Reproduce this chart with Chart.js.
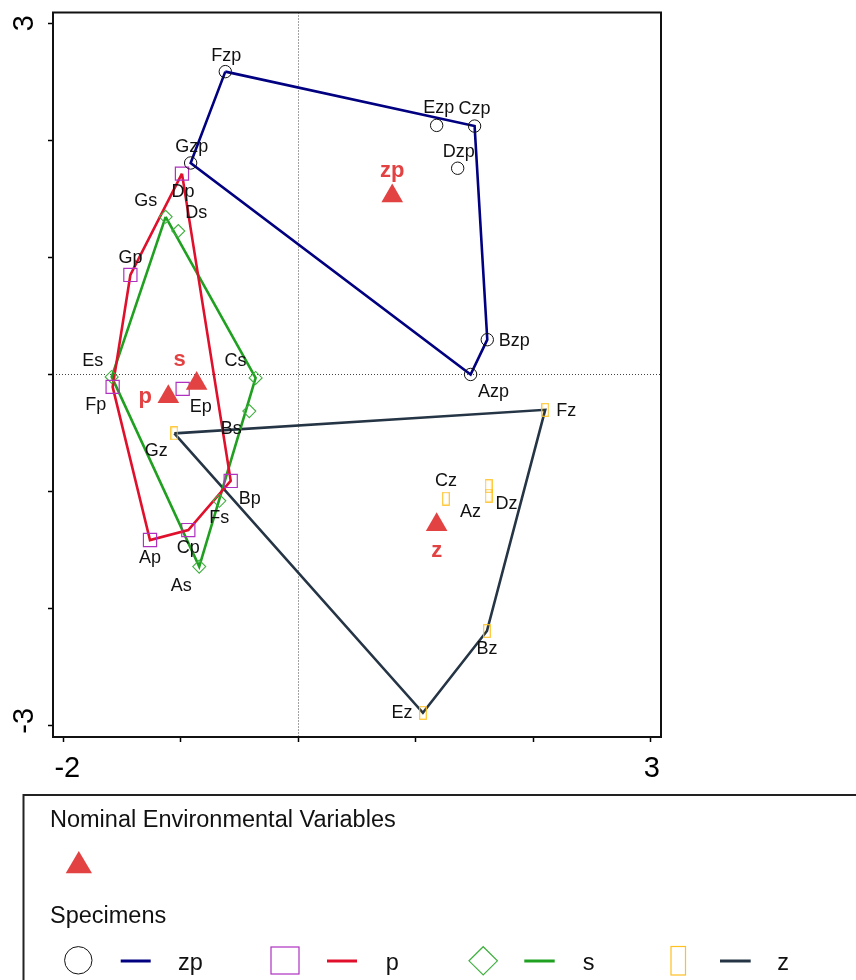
<!DOCTYPE html>
<html><head><meta charset="utf-8">
<script src="https://cdn.jsdelivr.net/npm/chart.js@4.4.0/dist/chart.umd.min.js"></script>
<style>
html,body{margin:0;padding:0;background:#fff;}
body{width:856px;height:980px;position:relative;overflow:hidden;font-family:"Liberation Sans",Arial,sans-serif;}
#wrap{position:absolute;left:0;top:0;width:856px;height:790px;}
#legsvg{position:absolute;left:0;top:780px;}
.t{position:absolute;white-space:nowrap;font-size:23.5px;line-height:23.5px;color:#111;}
</style></head>
<body>
<div id="wrap"><canvas id="c"></canvas></div>
<svg id="legsvg" width="856" height="200" xmlns="http://www.w3.org/2000/svg">
  <path d="M23.5 200 V15 H860" stroke="#222" stroke-width="2" fill="none"/>
  <polygon points="78.8,71 92,93.3 65.7,93.3" fill="#e34242"/>
  <circle cx="78.3" cy="180.3" r="13.7" stroke="#111" stroke-width="1" fill="none"/>
  <line x1="120.7" y1="181" x2="150.7" y2="181" stroke="#000080" stroke-width="3"/>
  <rect x="271" y="167" width="28" height="27" stroke="#b030c0" stroke-width="1.2" fill="none"/>
  <line x1="327" y1="181" x2="357" y2="181" stroke="#e0102c" stroke-width="3"/>
  <polygon points="469,180.8 483.2,166.7 497.4,180.8 483.2,195" stroke="#40b040" stroke-width="1.2" fill="none"/>
  <line x1="524.3" y1="181" x2="554.7" y2="181" stroke="#20a020" stroke-width="3"/>
  <rect x="671" y="166.5" width="14.5" height="28.5" stroke="#ffc020" stroke-width="1.2" fill="none"/>
  <line x1="720" y1="181" x2="750.7" y2="181" stroke="#253545" stroke-width="3"/>
</svg>
<div class="t" style="left:50px;top:808.4px">Nominal Environmental Variables</div>
<div class="t" style="left:50px;top:904.1px">Specimens</div>
<div class="t" style="left:178px;top:950.8px">zp</div>
<div class="t" style="left:385.7px;top:950.8px">p</div>
<div class="t" style="left:582.7px;top:950.8px">s</div>
<div class="t" style="left:777.3px;top:950.8px">z</div>
<script>
// ---------- DATA ----------
const zpNames = ['Azp','Bzp','Czp','Dzp','Ezp','Fzp','Gzp'];
const zpX = [1.467, 1.609, 1.501, 1.357, 1.178, -0.621, -0.916];
const zpY = [0.000, 0.297, 2.121, 1.761, 2.127, 2.586, 1.806];
const zpHull = ['Fzp','Czp','Bzp','Azp','Gzp','Fzp'];

const pNames = ['Ap','Bp','Cp','Dp','Ep','Fp','Gp'];
const pX = [-1.262, -0.575, -0.936, -0.990, -0.984, -1.580, -1.429];
const pY = [-1.414, -0.909, -1.329, 1.715, -0.123, -0.106, 0.850];
const pHull = ['Dp','Bp','Cp','Ap','Fp','Gp','Dp'];

const sNames = ['As','Bs','Cs','Ds','Es','Fs','Gs'];
const sX = [-0.843, -0.417, -0.363, -1.021, -1.588, -0.672, -1.129];
const sY = [-1.641, -0.313, -0.030, 1.225, -0.021, -1.079, 1.346];
const sHull = ['Gs','Cs','As','Es','Gs'];

const zNames = ['Az','Bz','Cz','Dz','Ez','Fz','Gz'];
const zX = [1.620, 1.606, 1.257, 1.620, 1.061, 2.102, -1.055];
const zY = [-1.034, -2.191, -1.060, -0.954, -2.889, -0.302, -0.503];
const zHull = ['Gz','Fz','Bz','Ez','Gz'];

const envNames = ['zp','p','s','z'];
const envX = [0.800, -1.106, -0.865, 1.178];
const envY = [1.523, -0.191, -0.077, -1.283];

const xTicks = [-2,-1,0,1,2,3];
const xTickLabels = ['-2','','','','','3'];
const yTicks = [-3,-2,-1,0,1,2,3];
const yTickLabels = ['-3','','','','','','3'];

// ---------- STYLE ----------
const FONT = '"Liberation Sans", Arial, sans-serif';
const labelOffset = {
  Fzp:[1,-16], Gzp:[1,-16], Ezp:[2,-17], Czp:[0,-17], Dzp:[1,-16], Bzp:[27,1], Azp:[23,18],
  Dp:[1,18], Gp:[0,-17], Fp:[-17,18], Ep:[18,18], Bp:[19,18], Cp:[0,18], Ap:[0,18],
  Gs:[-20,-16], Ds:[18,-18], Es:[-19,-16], Cs:[-20,-17], Bs:[-18,18], Fs:[0,17], As:[-18,19],
  Gz:[-18,18], Fz:[21,1], Cz:[0,-18], Az:[-18,16], Dz:[18,18], Bz:[0,18], Ez:[-21,0]
};
const envLabelOffset = { zp:[0,-25], p:[-23,0], s:[-17,-24], z:[0,26] };

function pts(names, X, Y){ return names.map((n,i)=>({x:X[i], y:Y[i], label:n})); }
function hull(order, names, X, Y){ return order.map(n=>{ const i=names.indexOf(n); return {x:X[i], y:Y[i]}; }); }

// tall yellow rectangle marker
const zMark = document.createElement('canvas');
zMark.width = 8; zMark.height = 14;
(function(){ const g=zMark.getContext('2d'); g.strokeStyle='#ffc020'; g.lineWidth=1.1; g.strokeRect(0.7,0.7,6.6,12.6); })();

const markerBase = { showLine:false, pointHoverRadius:0, backgroundColor:'rgba(0,0,0,0)' };
const lineBase = { showLine:true, pointRadius:0, pointHoverRadius:0, borderWidth:2.6, fill:false, tension:0 };

const datasets = [
  Object.assign({ data: pts(envNames, envX, envY), pointStyle:'triangle', pointRadius:12.5, backgroundColor:'#e34242', borderWidth:0, isEnv:true }, {showLine:false}),
  Object.assign({}, markerBase, { data: pts(zpNames, zpX, zpY), pointStyle:'circle', pointRadius:6.2, borderColor:'#111', pointBorderWidth:1, isSpec:true }),
  Object.assign({}, markerBase, { data: pts(pNames, pX, pY), pointStyle:'rect', pointRadius:9.3, borderColor:'#b030c0', pointBorderWidth:1.2, isSpec:true }),
  Object.assign({}, markerBase, { data: pts(sNames, sX, sY), pointStyle:'rectRot', pointRadius:6.5, borderColor:'#40b040', pointBorderWidth:1.1, isSpec:true }),
  Object.assign({}, markerBase, { data: pts(zNames, zX, zY), pointStyle:zMark, pointRadius:7, borderColor:'#ffc020', isSpec:true }),
  Object.assign({}, lineBase, { data: hull(zpHull, zpNames, zpX, zpY), borderColor:'#000080' }),
  Object.assign({}, lineBase, { data: hull(pHull, pNames, pX, pY), borderColor:'#e0102c' }),
  Object.assign({}, lineBase, { data: hull(sHull, sNames, sX, sY), borderColor:'#20a020' }),
  Object.assign({}, lineBase, { data: hull(zHull, zNames, zX, zY), borderColor:'#253545' })
];

const decor = {
  id:'decor',
  beforeDatasetsDraw(chart){
    const {ctx, chartArea:a, scales:{x, y}} = chart;
    ctx.save();
    ctx.strokeStyle = '#444'; ctx.lineWidth = 1; ctx.setLineDash([1,2]);
    const x0 = Math.round(x.getPixelForValue(0)) + 0.5;
    const y0 = Math.round(y.getPixelForValue(0)) + 0.5;
    ctx.beginPath(); ctx.moveTo(x0, a.top); ctx.lineTo(x0, a.bottom); ctx.stroke();
    ctx.beginPath(); ctx.moveTo(a.left, y0); ctx.lineTo(a.right, y0); ctx.stroke();
    ctx.restore();
  },
  afterDraw(chart){
    const {ctx, chartArea:a, scales:{x, y}} = chart;
    ctx.save();
    // frame
    ctx.strokeStyle = '#111'; ctx.lineWidth = 2; ctx.setLineDash([]);
    ctx.strokeRect(a.left, a.top, a.right - a.left, a.bottom - a.top);
    // axis labels
    ctx.fillStyle = '#000';
    ctx.font = '29px ' + FONT;
    ctx.textAlign = 'center'; ctx.textBaseline = 'alphabetic';
    xTicks.forEach((v,i)=>{
      if(!xTickLabels[i]) return;
      const px = x.getPixelForValue(v) + (v < 0 ? 4 : 1);
      ctx.fillText(xTickLabels[i], px, a.bottom + 40);
    });
    yTicks.forEach((v,i)=>{
      if(!yTickLabels[i]) return;
      const py = y.getPixelForValue(v) + (v < 0 ? -5 : 0);
      ctx.save();
      ctx.translate(a.left - 20, py);
      ctx.rotate(-Math.PI/2);
      ctx.fillText(yTickLabels[i], 0, 0);
      ctx.restore();
    });
    // point labels
    chart.data.datasets.forEach((ds, di)=>{
      if(!ds.isSpec && !ds.isEnv) return;
      const meta = chart.getDatasetMeta(di);
      meta.data.forEach((el, j)=>{
        const name = ds.data[j].label;
        let off;
        if(ds.isEnv){
          off = envLabelOffset[name];
          ctx.font = 'bold 22px ' + FONT; ctx.fillStyle = '#e34242';
        } else {
          off = labelOffset[name];
          ctx.font = '18px ' + FONT; ctx.fillStyle = '#111';
        }
        ctx.textAlign = 'center'; ctx.textBaseline = 'middle';
        ctx.fillText(name, el.x + off[0], el.y + off[1]);
      });
    });
    ctx.restore();
  }
};

new Chart(document.getElementById('c'), {
  type: 'scatter',
  data: { datasets },
  options: {
    responsive: true, maintainAspectRatio: false, animation: false, events: [],
    devicePixelRatio: 1,
    layout: { padding: { left: 0, top: 10, right: 195, bottom: 0 } },
    plugins: { legend: { display: false }, tooltip: { enabled: false } },
    scales: {
      x: {
        type: 'linear', min: -2.0877, max: 3.0877,
        afterBuildTicks: ax => { ax.ticks = xTicks.map(v => ({ value: v })); },
        afterFit: s => { s.height = 53; },
        ticks: { display: false },
        border: { display: false },
        grid: { display: true, drawOnChartArea: false, drawTicks: true, tickLength: 5, tickColor: '#000', tickWidth: 1.5, color: '#000' }
      },
      y: {
        type: 'linear', min: -3.096, max: 3.091,
        afterBuildTicks: ax => { ax.ticks = yTicks.map(v => ({ value: v })); },
        afterFit: s => { s.width = 53; },
        ticks: { display: false },
        border: { display: false },
        grid: { display: true, drawOnChartArea: false, drawTicks: true, tickLength: 5, tickColor: '#000', tickWidth: 1.5, color: '#000' }
      }
    }
  },
  plugins: [decor]
});
</script>
</body></html>
